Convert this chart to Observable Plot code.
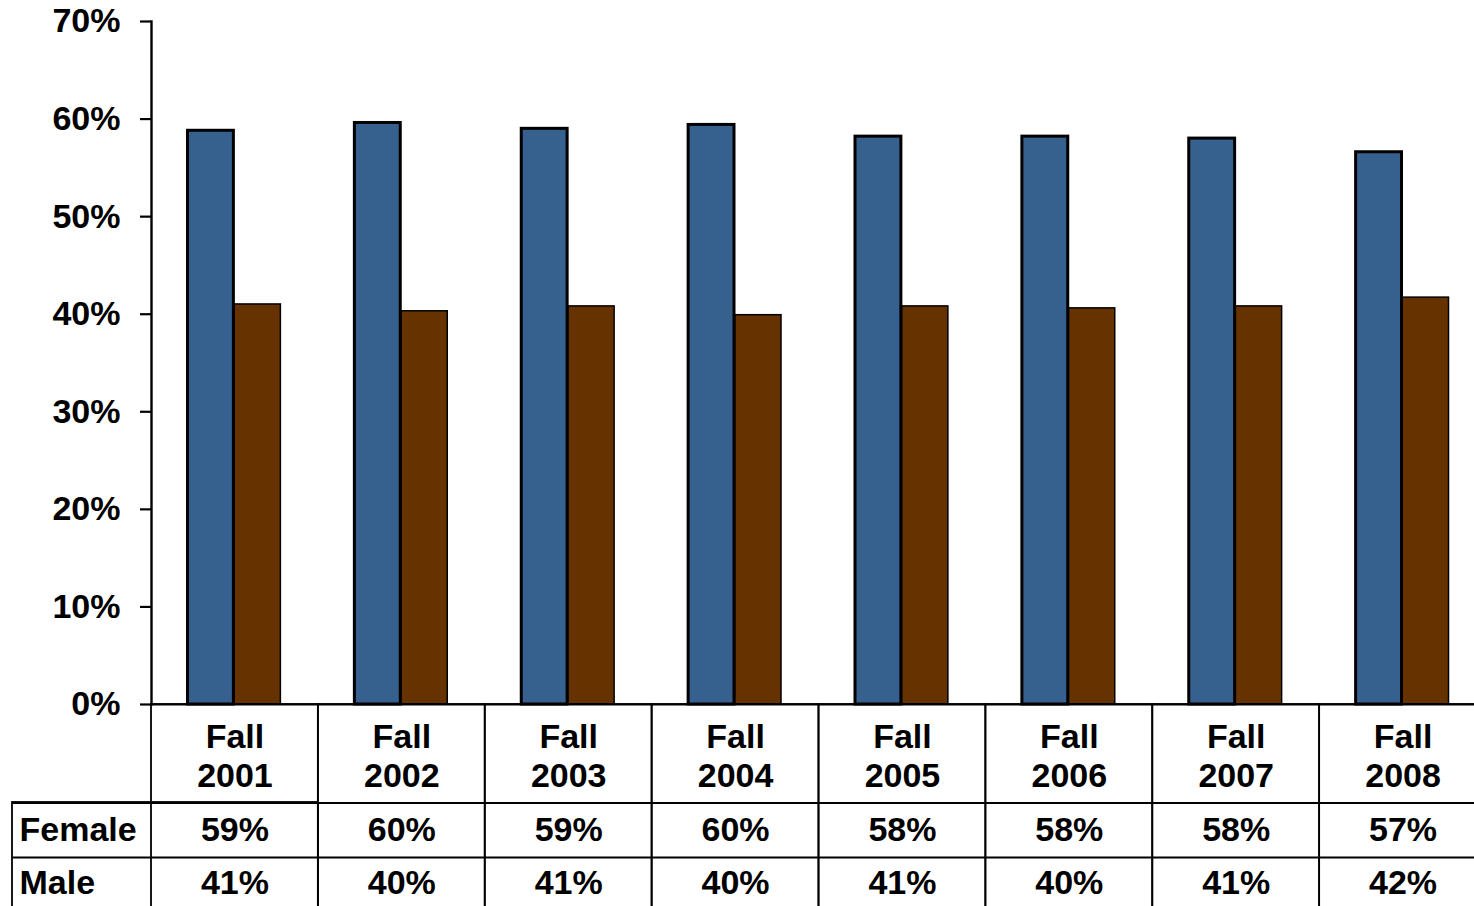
<!DOCTYPE html>
<html>
<head>
<meta charset="utf-8">
<script src="https://cdn.jsdelivr.net/npm/d3@7"></script>
<script src="https://cdn.jsdelivr.net/npm/@observablehq/plot@0.6"></script>
<style>
  html, body { margin: 0; padding: 0; background: white; }
</style>
</head>
<body>
<div id="chart"></div>
<script>
const categories = ["Fall 2001", "Fall 2002", "Fall 2003", "Fall 2004", "Fall 2005", "Fall 2006", "Fall 2007", "Fall 2008"];
const female = [58.8, 59.6, 59.0, 59.4, 58.2, 58.2, 58.0, 56.6];
const male = [41.0, 40.3, 40.8, 39.9, 40.8, 40.6, 40.8, 41.7];
const femaleLabels = ["59%", "60%", "59%", "60%", "58%", "58%", "58%", "57%"];
const maleLabels = ["41%", "40%", "41%", "40%", "41%", "40%", "41%", "42%"];
const rowNames = ["Female", "Male"];
const yTicks = [0, 10, 20, 30, 40, 50, 60, 70];

const rows = categories.map((c, i) => ({
  cat: c,
  female: female[i],
  male: male[i],
  femaleLabel: femaleLabels[i],
  maleLabel: maleLabels[i]
}));

const lineW = 1.8;

const chart = Plot.plot({
  width: 1474,
  height: 906,
  marginLeft: 151,
  marginRight: -12,
  marginTop: 21,
  marginBottom: 202,
  style: {
    fontFamily: "'Liberation Sans', Arial, sans-serif",
    fontSize: "34px",
    fontWeight: "bold",
    color: "black",
    background: "white"
  },
  x: { type: "band", domain: categories, padding: 0, round: false, axis: null },
  y: { domain: [0, 70], axis: null },
  marks: [
    // y axis
    Plot.axisY({
      ticks: yTicks,
      tickFormat: d => d + "%",
      tickSize: 11,
      tickPadding: 20,
      strokeWidth: 2.2,
      label: null
    }),
    Plot.frame({ anchor: "left", stroke: "black", strokeWidth: 2.4 }),
    // male bars (drawn first so the female outline sits on top)
    Plot.barY(rows, {
      x: "cat", y: "male", fill: "#663300",
      stroke: "black", strokeWidth: 1.5,
      insetLeft: 83, insetRight: 37.5
    }),
    // female bars
    Plot.barY(rows, {
      x: "cat", y: "female", fill: "#36618F",
      stroke: "black", strokeWidth: 3,
      insetLeft: 36.5, insetRight: 84.5
    }),
    // baseline
    Plot.ruleY([0], { stroke: "black", strokeWidth: lineW }),
    // table: category columns
    Plot.cell(categories, {
      x: d => d, fill: "none", stroke: "black", strokeWidth: lineW,
      insetTop: 683, insetBottom: -240, insetLeft: 0, insetRight: 0
    }),
    // table: row-label column
    Plot.cell([categories[0]], {
      x: d => d, fill: "none", stroke: "black", strokeWidth: lineW,
      insetLeft: -139, insetRight: 0, insetTop: 781, insetBottom: -240
    }),
    // table: horizontal row lines
    Plot.ruleY([0], { dy: 98.5, insetLeft: -139, stroke: "black", strokeWidth: lineW }),
    Plot.ruleY([0], { dy: 153, insetLeft: -139, stroke: "black", strokeWidth: lineW }),
    // category labels
    Plot.text(rows, {
      x: "cat", text: d => d.cat.replace(" ", "\n"),
      frameAnchor: "bottom", lineAnchor: "middle", dy: 50.5, lineHeight: 1.15, fill: "black"
    }),
    // values
    Plot.text(rows, { x: "cat", text: "femaleLabel", frameAnchor: "bottom", lineAnchor: "middle", dy: 126, fill: "black" }),
    Plot.text(rows, { x: "cat", text: "maleLabel", frameAnchor: "bottom", lineAnchor: "middle", dy: 179, fill: "black" }),
    // row names
    Plot.text([rowNames[0]], { text: d => d, frameAnchor: "bottom-left", lineAnchor: "middle", textAnchor: "start", dx: -132, dy: 126, fill: "black" }),
    Plot.text([rowNames[1]], { text: d => d, frameAnchor: "bottom-left", lineAnchor: "middle", textAnchor: "start", dx: -132, dy: 179, fill: "black" })
  ]
});

document.getElementById("chart").appendChild(chart);
</script>
</body>
</html>
